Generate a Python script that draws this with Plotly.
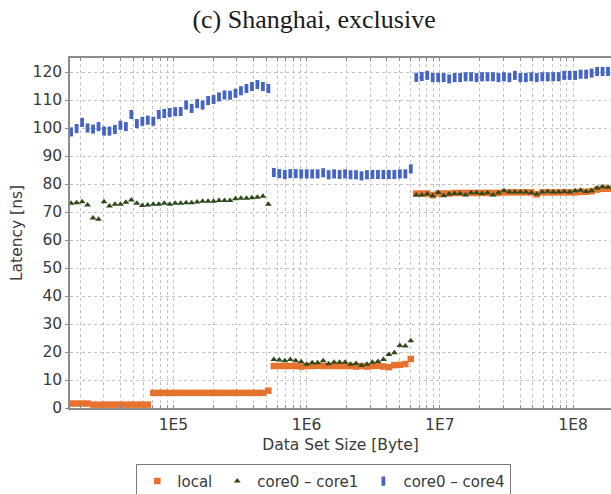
import plotly.graph_objects as go

# Data set sizes in bytes (sampling grid of the benchmark)
sizes = [
    17060, 18760, 20630, 22670, 24920, 27400, 30120, 33110, 36390, 40010,
    43980, 48340, 53150, 58430, 64230, 70630, 77640, 85350, 93830, 103100,
    113400, 124600, 137000, 150700, 165600, 182100, 200200, 220000, 241900, 266000,
    292400, 321400, 353400, 388500, 427100, 469600, 516200, 567400, 623700, 685800,
    753900, 828400, 911000, 1001400, 1100800, 1210000, 1330500, 1462700, 1607900, 1768000,
    1943500, 2136400, 2349000, 2582200, 2837900, 3119500, 3429800, 3770100, 4144300, 4556700,
    5009500, 5506600, 6054600, 6655400, 7315900, 8042000, 8843100, 9720700, 10686000, 11749000,
    12915000, 14197000, 15610000, 17159000, 18862000, 20734000, 22797000, 25061000, 27548000, 30290000,
    33296000, 36601000, 40243000, 44237000, 48627000, 53456000, 58775000, 64608000, 71021000, 78089000,
    85840000, 94360000, 103750000, 114050000, 125370000, 137810000, 151520000, 166560000, 183090000,
]

# Latency [ns]
local = [
    1.6, 1.6, 1.6, 1.6, 1.2, 1.2, 1.2, 1.2, 1.2, 1.2,
    1.2, 1.2, 1.2, 1.2, 1.2, 5.4, 5.4, 5.4, 5.4, 5.4,
    5.4, 5.4, 5.4, 5.4, 5.4, 5.4, 5.4, 5.4, 5.4, 5.4,
    5.4, 5.4, 5.4, 5.4, 5.4, 5.4, 6.2,
    15.0, 15.0, 15.0, 15.0, 15.0, 14.8, 15.0, 15.0, 15.1, 15.0,
    15.0, 15.0, 15.0, 15.0, 15.0, 14.8, 15.0, 14.8, 15.0, 15.1,
    14.8, 14.6, 15.3, 15.4, 15.7, 17.5,
    76.6, 76.6, 76.6, 76.0, 76.6, 76.6, 76.6, 76.8, 76.8, 76.8,
    76.8, 76.8, 76.8, 76.8, 76.8, 76.8, 77.0, 77.0, 77.0, 77.0,
    77.0, 77.0, 76.3, 77.0, 77.0, 77.0, 77.0, 77.0, 77.0, 77.0,
    77.2, 77.2, 77.4, 78.0, 78.3, 78.3,
]

core0_core1 = [
    73.1, 73.3, 73.7, 72.5, 67.9, 67.4, 73.7, 72.1, 72.8, 72.8,
    73.5, 74.3, 73.1, 72.3, 72.5, 72.8, 72.8, 73.1, 72.8, 73.1,
    73.1, 73.3, 73.3, 73.6, 73.8, 73.8, 73.8, 74.1, 74.1, 74.1,
    74.7, 74.9, 74.9, 75.1, 75.3, 75.6, 72.8,
    17.3, 17.1, 16.9, 17.3, 16.9, 16.5, 15.6, 16.2, 16.2, 16.9,
    15.8, 16.3, 16.3, 16.3, 15.6, 15.9, 15.2, 15.6, 16.3, 16.6,
    17.3, 19.1, 19.7, 22.3, 22.1, 24.0,
    76.1, 76.1, 76.4, 75.8, 77.0, 75.8, 76.4, 76.6, 76.6, 76.1,
    76.9, 76.9, 76.6, 76.9, 76.1, 76.9, 77.6, 77.1, 77.1, 77.1,
    77.1, 76.9, 76.4, 77.1, 77.3, 77.1, 77.1, 77.3, 77.1, 77.6,
    77.8, 77.3, 77.6, 78.6, 79.0, 78.8,
]

core0_core4 = [
    98.6, 99.8, 102.0, 100.0, 99.6, 100.5, 98.9, 98.9, 99.5, 101.0,
    100.5, 104.8, 101.6, 102.4, 102.8, 102.4, 104.8, 105.2, 105.5, 105.8,
    105.9, 108.2, 107.0, 108.7, 108.2, 109.8, 110.2, 111.1, 111.8, 111.7,
    112.4, 113.3, 114.1, 114.8, 115.5, 114.8, 114.1,
    84.1, 83.7, 83.4, 83.7, 83.7, 83.6, 83.6, 83.6, 83.6, 84.0,
    83.3, 83.6, 83.4, 83.6, 83.3, 83.3, 82.9, 83.3, 83.4, 83.4,
    83.4, 83.4, 83.4, 83.6, 83.6, 85.4,
    118.1, 118.4, 118.8, 118.0, 118.0, 118.0, 117.5, 118.0, 118.0, 118.3,
    118.3, 118.0, 118.3, 118.3, 118.3, 118.0, 118.3, 118.0, 118.8, 118.0,
    118.0, 118.3, 118.0, 118.3, 118.3, 118.3, 118.3, 118.8, 118.8, 118.8,
    119.2, 119.2, 119.6, 120.2, 120.2, 120.2,
]

# Log-axis ticks: every 1..9 multiple gets a gridline, only decades are labelled
decade_labels = {100000: "1E5", 1000000: "1E6", 10000000: "1E7", 100000000: "1E8"}
tick_vals, tick_text = [], []
for decade in (10000, 100000, 1000000, 10000000, 100000000):
    for m in range(1, 10):
        v = m * decade
        if 20000 <= v <= 100000000:
            tick_vals.append(v)
            tick_text.append(decade_labels.get(v, ""))

ORANGE = "#E5722F"
GREEN = "#2E4A1C"
BLUE = "#4664C4"
GRID = "#C4C4C4"
AXIS = "#8C8C8C"
TXT = "#3A3A3A"
SANS = "DejaVu Sans"

fig = go.Figure()
fig.add_trace(go.Scatter(
    x=sizes, y=local, mode="markers", name="local",
    marker=dict(symbol="square", size=6.5, color=ORANGE, line=dict(width=0)),
))
fig.add_trace(go.Scatter(
    x=sizes, y=core0_core1, mode="markers", name="core0 – core1",
    marker=dict(symbol="triangle-up", size=6, color=GREEN, line=dict(width=0)),
))
fig.add_trace(go.Scatter(
    x=sizes, y=core0_core4, mode="markers", name="core0 – core4",
    marker=dict(symbol="line-ns", size=6.5, color=BLUE, line=dict(width=3.8, color=BLUE)),
))

fig.update_layout(
    width=611, height=494,
    margin=dict(l=70, r=0, t=58, b=86, autoexpand=False),
    paper_bgcolor="white", plot_bgcolor="white",
    title=dict(
        text="(c) Shanghai, exclusive",
        x=0.514, xref="container", xanchor="center",
        y=0.962, yref="container", yanchor="middle",
        font=dict(family="Liberation Serif", size=26, color="#1a1a1a"),
    ),
    showlegend=True,
    legend=dict(
        orientation="h", x=0.53, xref="container", xanchor="center",
        y=0.061, yref="container", yanchor="top",
        bordercolor="#7a7a7a", borderwidth=1, bgcolor="white",
        font=dict(family=SANS, size=15, color=TXT),
        itemwidth=30, tracegroupgap=0,
    ),
    font=dict(family=SANS, size=15, color=TXT),
)

fig.update_xaxes(
    type="log", range=[4.2236, 8.285],
    tickmode="array", tickvals=tick_vals, ticktext=tick_text,
    showgrid=True, gridcolor=GRID, griddash="dot", gridwidth=1,
    showline=True, linecolor=AXIS, linewidth=1.5, mirror="ticks",
    ticks="inside", ticklen=3, tickcolor=AXIS, ticklabelstandoff=2,
    tickfont=dict(family=SANS, size=15.5, color=TXT),
    title=dict(text="Data Set Size [Byte]", standoff=6, font=dict(family=SANS, size=15.5, color=TXT)),
    zeroline=False,
)
fig.update_yaxes(
    range=[0, 125], tick0=0, dtick=10,
    showgrid=True, gridcolor=GRID, griddash="dot", gridwidth=1,
    showline=True, linecolor=AXIS, linewidth=1.5,
    ticks="outside", ticklen=3, tickcolor=AXIS,
    tickfont=dict(family=SANS, size=15.5, color=TXT),
    title=dict(text="Latency [ns]", standoff=6, font=dict(family=SANS, size=15.5, color=TXT)),
    zeroline=False,
)

fig.write_html("out.html")
